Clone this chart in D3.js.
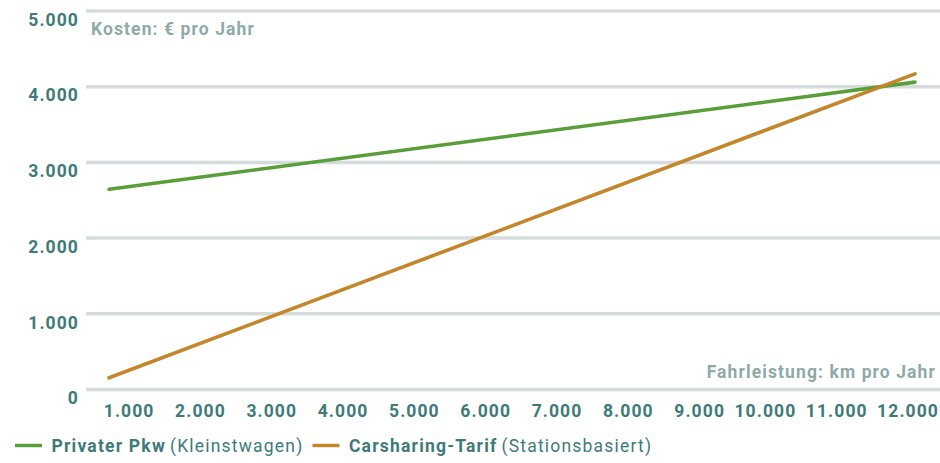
<!DOCTYPE html>
<html>
<head>
<meta charset="utf-8">
<script src="https://cdn.jsdelivr.net/npm/d3@7"></script>
<style>
  html, body { margin: 0; padding: 0; background: #fff; }
  svg { display: block; font-family: Roboto, "DejaVu Sans", sans-serif; }
</style>
</head>
<body>
<svg id="chart" width="940" height="463"></svg>
<script>
// Jährliche Kosten in Abhängigkeit von der Fahrleistung
const kmTicks = [1000, 2000, 3000, 4000, 5000, 6000, 7000, 8000, 9000, 10000, 11000, 12000];
const costTicks = [0, 1000, 2000, 3000, 4000, 5000];

const kmRange = [700, 12000];           // Fahrleistung (km pro Jahr)
const privatPkw = [2645, 4060];         // Privater Pkw (Kleinstwagen), € pro Jahr
const carsharing = [155, 4170];         // Carsharing-Tarif (Stationsbasiert), € pro Jahr

const seriesNames = ["Privater Pkw", "Carsharing-Tarif"];
const seriesNotes = ["(Kleinstwagen)", "(Stationsbasiert)"];
const seriesColors = ["#5a9e3a", "#c4862a"];

const fmt = d3.formatLocale({ decimal: ",", thousands: ".", grouping: [3], currency: ["", " €"] }).format(",d");

const svg = d3.select("#chart");
const x = d3.scaleLinear().domain([1000, 12000]).range([130.5, 915]);
const y = d3.scaleLinear().domain([0, 5000]).range([389.5, 11]);

const tealDark = "#3e7b78";
const tealLight = "#8eaaa8";
const fs = 17.5;
const ls = 1.1;

// Gitterlinien
svg.append("g").selectAll("line").data(costTicks).join("line")
  .attr("x1", 86).attr("x2", 940)
  .attr("y1", d => y(d)).attr("y2", d => y(d))
  .attr("stroke", "#d6dcdd").attr("stroke-width", 3.5);

// y-Achse
svg.append("g").selectAll("text").data(costTicks).join("text")
  .attr("x", 79).attr("y", d => y(d) + 14.7)
  .attr("text-anchor", "end")
  .attr("fill", tealDark).attr("font-weight", 700).attr("font-size", fs)
  .attr("letter-spacing", ls)
  .text(d => fmt(d));

// x-Achse
svg.append("g").selectAll("text").data(kmTicks).join("text")
  .attr("x", d => x(d) + 24).attr("y", 416.7)
  .attr("text-anchor", "end")
  .attr("fill", tealDark).attr("font-weight", 700).attr("font-size", fs)
  .attr("letter-spacing", ls)
  .text(d => fmt(d));

// Achsentitel
svg.append("text").attr("x", 91).attr("y", 35)
  .attr("fill", tealLight).attr("font-weight", 700).attr("font-size", fs)
  .attr("letter-spacing", ls)
  .text("Kosten: € pro Jahr");
svg.append("text").attr("x", 936).attr("y", 377.5)
  .attr("text-anchor", "end")
  .attr("fill", tealLight).attr("font-weight", 700).attr("font-size", fs)
  .attr("letter-spacing", ls)
  .text("Fahrleistung: km pro Jahr");

// Linien
const line = d3.line().x(d => x(d[0])).y(d => y(d[1]));
[privatPkw, carsharing].forEach((vals, i) => {
  svg.append("path")
    .datum(kmRange.map((k, j) => [k, vals[j]]))
    .attr("d", line)
    .attr("fill", "none")
    .attr("stroke", seriesColors[i])
    .attr("stroke-width", 3.6)
    .attr("stroke-linecap", "round");
});

// Legende
const legend = svg.append("g").attr("transform", "translate(15,0)");
let lx = 0;
seriesNames.forEach((name, i) => {
  const g = legend.append("g").attr("transform", `translate(${lx},0)`);
  g.append("line").attr("x1", 0).attr("x2", 27).attr("y1", 445.5).attr("y2", 445.5)
    .attr("stroke", seriesColors[i]).attr("stroke-width", 3.4);
  const t = g.append("text").attr("x", 36.5).attr("y", 452)
    .attr("fill", tealDark).attr("font-size", fs).attr("letter-spacing", 1.2);
  t.append("tspan").attr("font-weight", 700).text(name);
  t.append("tspan").attr("font-weight", 400).attr("dx", 4).text(seriesNotes[i]);
  lx += 36.5 + t.node().getBBox().width + 9;
});
</script>
</body>
</html>
